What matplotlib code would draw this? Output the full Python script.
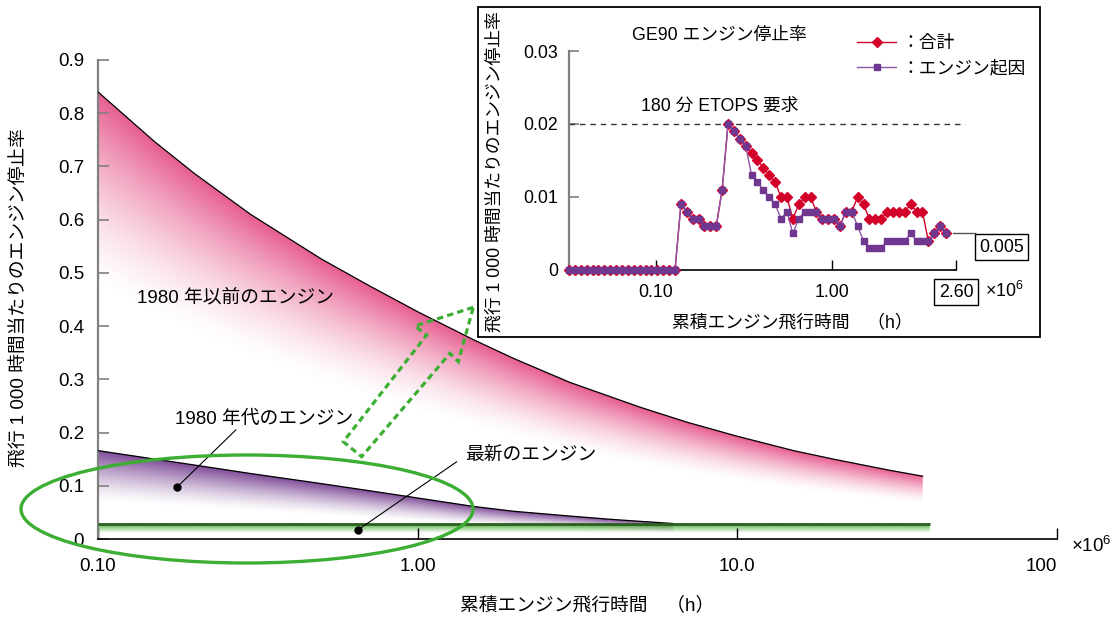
import numpy as np
import matplotlib
matplotlib.use("Agg")
import matplotlib.pyplot as plt
from matplotlib.patches import Ellipse, Rectangle, Polygon
from matplotlib.lines import Line2D
from matplotlib.ticker import NullLocator
from matplotlib.colors import to_rgb
from matplotlib.transforms import blended_transform_factory

plt.rcParams['font.family'] = ['Liberation Sans', 'Noto Sans CJK JP']
plt.rcParams['mathtext.default'] = 'regular'
plt.rcParams['axes.unicode_minus'] = False

# ---- main chart: in-flight shutdown rate vs cumulative engine hours (x10^6 h)
pre1980_hours = [0.1, 0.15, 0.2, 0.3, 0.5, 0.7, 1.0, 1.5, 2.0, 3.0, 5.0, 7.0,
                 10.0, 15.0, 20.0, 30.0, 38.0]
pre1980_rate = [0.84, 0.747, 0.687, 0.61, 0.526, 0.477, 0.427, 0.374, 0.339,
                0.294, 0.247, 0.219, 0.193, 0.166, 0.150, 0.129, 0.118]

eighties_hours = [0.1, 0.2, 0.3, 0.5, 0.7, 1.0, 1.5, 2.0, 3.0, 4.0, 5.0, 6.3]
eighties_rate = [0.166, 0.139, 0.123, 0.104, 0.091, 0.077, 0.061, 0.052,
                 0.043, 0.037, 0.033, 0.029]

latest_hours = [0.1, 40.0]
latest_rate = [0.028, 0.028]

main_xticks = [0.1, 1, 10, 100]
main_xticklabels = ['0.10', '1.00', '10.0', '100']
main_yticks = [0, 0.1, 0.2, 0.3, 0.4, 0.5, 0.6, 0.7, 0.8, 0.9]
main_yticklabels = ['0', '0.1', '0.2', '0.3', '0.4', '0.5', '0.6', '0.7', '0.8', '0.9']

# ---- inset: GE90 shutdown rate, one value per reporting period
ge90_total = [0] * 19 + [
    0.009, 0.008, 0.007, 0.007, 0.006, 0.006, 0.006, 0.011, 0.020, 0.019,
    0.018, 0.017, 0.016, 0.015, 0.014, 0.013, 0.012, 0.010, 0.010, 0.007,
    0.009, 0.010, 0.010, 0.008, 0.007, 0.007, 0.007, 0.006, 0.008, 0.008,
    0.010, 0.009, 0.007, 0.007, 0.007, 0.008, 0.008, 0.008, 0.008, 0.009,
    0.008, 0.008, 0.004, 0.005, 0.006, 0.005]
ge90_engine = [0] * 19 + [
    0.009, 0.008, 0.007, 0.007, 0.006, 0.006, 0.006, 0.011, 0.020, 0.019,
    0.018, 0.017, 0.013, 0.012, 0.011, 0.010, 0.009, 0.007, 0.008, 0.005,
    0.007, 0.008, 0.008, 0.008, 0.007, 0.007, 0.007, 0.006, 0.008, 0.008,
    0.006, 0.004, 0.003, 0.003, 0.003, 0.004, 0.004, 0.004, 0.004, 0.005,
    0.004, 0.004, 0.004, 0.005, 0.006, 0.005]
ge90_tick_pos = [14.77, 44.65, 65.7]
ge90_tick_labels = ['0.10', '1.00', '2.60']
ge90_yticks = [0, 0.01, 0.02, 0.03]
ge90_yticklabels = ['0', '0.01', '0.02', '0.03']
etops_limit = 0.02

PINK = '#e75d90'
VIOLET = '#7e4a97'
GREEN = '#4fae3c'
RED = '#d3002a'
PURPLE_LINE = '#8e55a8'
PURPLE_MARK = '#6f3790'
RING = '#3cae34'
FS = 13.5
FSI = 12.8

W, H = 1114, 619
fig = plt.figure(figsize=(W / 100, H / 100), dpi=100)


def fx(px):
    return px / W


def fy(py):
    return 1 - py / H


# ---------------- main axes
ax = fig.add_axes([fx(98), fy(539), fx(1057) - fx(98), fy(60) - fy(539)])
ax.set_xscale('log')
ax.set_xlim(0.1, 100)
ax.set_ylim(0, 0.9)


def gradient_under(axis, xs, ys, color, frac, gamma=1.0, zorder=1):
    """Fill below a curve with a colour fading to white."""
    x0, x1 = axis.get_xlim()
    y0, y1 = axis.get_ylim()
    nx, ny = 1900, 960
    lx = np.linspace(np.log10(x0), np.log10(x1), nx)
    yy = np.linspace(y0, y1, ny)
    top = np.interp(lx, np.log10(xs), ys, left=np.nan, right=np.nan)
    bottom = top * (1 - frac)
    t = (yy[:, None] - bottom[None, :]) / (top - bottom)[None, :]
    a = np.clip(t, 0, 1) ** gamma
    a[yy[:, None] > top[None, :]] = 0
    a = np.nan_to_num(a)
    img = np.zeros((ny, nx, 4))
    img[..., :3] = to_rgb(color)
    img[..., 3] = a
    axis.imshow(img, extent=(0, 1, 0, 1), transform=axis.transAxes,
                origin='lower', aspect='auto', interpolation='bilinear',
                zorder=zorder)


gradient_under(ax, pre1980_hours, pre1980_rate, PINK, 0.44, 1.5, zorder=1)
gradient_under(ax, eighties_hours, eighties_rate, VIOLET, 0.58, 1.4, zorder=1.1)
gradient_under(ax, latest_hours, latest_rate, GREEN, 0.6, 1.0, zorder=1.2)
ax.set_xlim(0.1, 100)
ax.set_ylim(0, 0.9)

ax.plot(pre1980_hours, pre1980_rate, color='black', lw=0.9, zorder=3)
ax.plot(eighties_hours, eighties_rate, color='black', lw=0.9, zorder=3)
ax.plot(latest_hours, latest_rate, color='#2b5e1f', lw=2.0, zorder=3,
        solid_capstyle='butt')

for s in ('top', 'right'):
    ax.spines[s].set_visible(False)
ax.spines['left'].set_color('#808080')
ax.spines['left'].set_linewidth(1.6)
ax.spines['bottom'].set_color('black')
ax.spines['bottom'].set_linewidth(1.2)
ax.set_xticks(main_xticks, main_xticklabels)
ax.xaxis.set_minor_locator(NullLocator())
ax.set_yticks(main_yticks, main_yticklabels)
ax.tick_params(axis='y', direction='in', length=8, width=1.2, color='#808080',
               pad=10, labelsize=FS)
ax.tick_params(axis='x', direction='in', length=8, width=1, color='black',
               pad=14, labelsize=FS)
ax.get_xticklabels()[-1].set_ha('right')

ax.set_ylabel('飛行 1 000 時間当たりのエンジン停止率', fontsize=FS)
ax.yaxis.set_label_coords(-0.072, 0.505)
ax.set_xlabel('累積エンジン飛行時間　（h）', fontsize=FS)
ax.xaxis.set_label_coords(0.51, -0.12)
fig.text(fx(1071), fy(546), '×10$^{6}$', fontsize=FS, va='center', ha='left')

# curve labels and leaders
ax.text(0.1325, 0.453, '1980 年以前のエンジン', fontsize=FS, va='center', ha='left', zorder=4)
ax.text(0.174, 0.224, '1980 年代のエンジン', fontsize=FS, va='center', ha='left', zorder=4)
ax.text(1.41, 0.156, '最新のエンジン', fontsize=FS, va='center', ha='left', zorder=4)
ax.plot([0.177, 0.270], [0.098, 0.205], color='black', lw=0.8, zorder=4)
ax.plot([0.65, 1.324], [0.017, 0.145], color='black', lw=0.8, zorder=4)
ax.plot([0.177, 0.65], [0.098, 0.017], 'o', color='black', ms=5, zorder=4)

# highlight ring around recent engines
fig.add_artist(Ellipse((fx(247), fy(509)), fx(452), 108 / H,
                       transform=fig.transFigure, fill=False, ec=RING,
                       lw=2.4, zorder=5))

# dashed arrow toward the GE90 inset
arrow_px = [(473.3, 307.3), (415, 326), (426.7, 335), (343.3, 441.7),
            (361.7, 456.7), (450, 353.3), (458.3, 361.7)]
fig.add_artist(Polygon([(fx(a), fy(b)) for a, b in arrow_px], closed=True,
                       transform=fig.transFigure, fill=False, ec=RING,
                       lw=2.3, ls=(0, (2.0, 1.3)), zorder=5))

# ---------------- inset panel
fig.add_artist(Rectangle((fx(478), fy(337)), fx(562), 330 / H,
                         transform=fig.transFigure, fc='white', ec='black',
                         lw=1.3, zorder=4))

ix = fig.add_axes([fx(569), fy(270), fx(956) - fx(569), fy(51) - fy(270)])
ix.set_zorder(6)
ix.patch.set_alpha(0)
idx = np.arange(len(ge90_total))
ix.plot(idx, ge90_total, color=RED, lw=1, marker='D', ms=5.2,
        mfc=RED, mec=RED, clip_on=False, zorder=3)
ix.plot(idx, ge90_engine, color=PURPLE_LINE, lw=1, marker='s', ms=3.8,
        mfc=PURPLE_MARK, mec=PURPLE_MARK, clip_on=False, zorder=4)
ix.set_xlim(0, 65.7)
ix.set_ylim(0, 0.03)

ix.plot([0, 1.023], [etops_limit, etops_limit], transform=ix.get_yaxis_transform(),
        color='#333333', lw=1, ls=(0, (4, 3.5)), clip_on=False, zorder=2)
ix.text(0.39, 0.749, '180 分 ETOPS 要求', transform=ix.transAxes,
        fontsize=FSI, ha='center', va='center')
ix.text(0.163, 1.072, 'GE90 エンジン停止率', transform=ix.transAxes,
        fontsize=FSI, ha='left', va='center')

for s in ('top', 'right'):
    ix.spines[s].set_visible(False)
ix.spines['left'].set_color('#808080')
ix.spines['left'].set_linewidth(1.6)
ix.spines['bottom'].set_color('black')
ix.spines['bottom'].set_linewidth(1.2)
ix.set_xticks(ge90_tick_pos, ge90_tick_labels)
ix.set_yticks(ge90_yticks, ge90_yticklabels)
ix.tick_params(axis='y', direction='in', length=7, width=1.2, color='#808080',
               pad=8, labelsize=FSI)
ix.tick_params(axis='x', direction='in', length=7, width=1, color='black',
               pad=10, labelsize=FSI)
ix.get_xticklabels()[-1].set_bbox(dict(boxstyle='square,pad=0.25', fc='white',
                                       ec='black', lw=1))
ix.text(1.075, -0.094, '×10$^{6}$', transform=ix.transAxes, fontsize=FSI,
        ha='left', va='center')

ix.set_ylabel('飛行 1 000 時間当たりのエンジン停止率', fontsize=FSI)
ix.yaxis.set_label_coords(-0.17, 0.447)
ix.set_xlabel('累積エンジン飛行時間　（h）', fontsize=FSI)
ix.xaxis.set_label_coords(0.576, -0.2)

# final value call-out
last = ge90_total[-1]
ix.plot([idx[-1] + 1.2, 68.9], [last, last], color='#555555', lw=1,
        clip_on=False, zorder=2)
callout_tf = blended_transform_factory(ix.transAxes, ix.transData)
ix.text(1.1176, last - 0.0019, f'{last:.3f}', transform=callout_tf,
        fontsize=FSI, ha='center', va='center',
        bbox=dict(boxstyle='square,pad=0.25', fc='white', ec='black', lw=1))

# legend
handles = [Line2D([], [], color=RED, lw=1, marker='D', ms=5.2, mfc=RED, mec=RED),
           Line2D([], [], color=PURPLE_LINE, lw=1, marker='s', ms=3.8,
                  mfc=PURPLE_MARK, mec=PURPLE_MARK)]
ix.legend(handles, ['：合計', '：エンジン起因'], loc='upper left',
          bbox_to_anchor=(fx(857), fy(35)), bbox_transform=fig.transFigure,
          frameon=False, fontsize=FSI, handlelength=2.2, handletextpad=0.3,
          labelspacing=0.45, borderpad=0, borderaxespad=0)

fig.savefig('out.png', dpi=100)
